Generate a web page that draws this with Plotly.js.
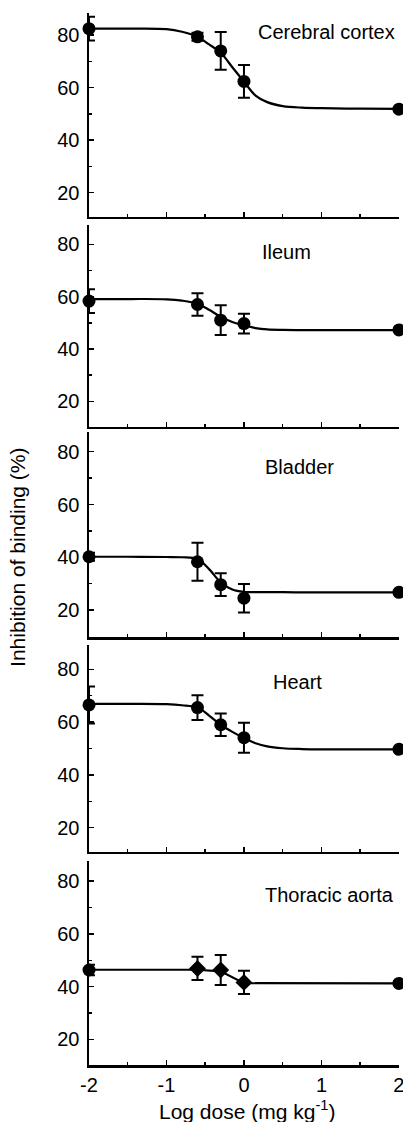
<!DOCTYPE html>
<html>
<head>
<meta charset="utf-8">
<script src="https://cdn.plot.ly/plotly-3.0.1.min.js"></script>
<style>
html,body{margin:0;padding:0;background:#fff;}
#chart{width:403px;height:1122px;}
</style>
</head>
<body>
<div id="chart"></div>
<script>
// ---- data ----
const panelNames = ["Cerebral cortex", "Ileum", "Bladder", "Heart", "Thoracic aorta"];
const doseX = [-2, -0.6, -0.3, 0, 2];

const cortexVals = [82.5, 79.4, 74.0, 62.4, 51.8];
const cortexErr  = [4.5, 1.5, 7.2, 6.2, 0];
const ileumVals  = [58.3, 57.0, 51.0, 49.7, 47.3];
const ileumErr   = [4.5, 4.3, 5.7, 3.8, 0];
const bladderVals = [40.2, 38.3, 29.6, 24.5, 26.7];
const bladderErr  = [1.5, 7.2, 4.3, 5.4, 0];
const heartVals  = [66.5, 65.5, 59.0, 54.1, 49.7];
const heartErr   = [7.0, 4.7, 4.3, 5.7, 0];
const aortaVals  = [46.3, 46.9, 46.3, 41.6, 41.2];
const aortaErr   = [2.0, 4.4, 5.7, 4.4, 0];

// fitted curves
const fitX = [-2, -1.5, -1, -0.8, -0.6, -0.45, -0.3, -0.15, 0, 0.15, 0.3, 0.5, 0.75, 1, 1.5, 2];
const cortexFit  = [82.5, 82.5, 82.3, 81.3, 79.4, 76.5, 73.3, 67.8, 62.3, 57.0, 54.5, 53.0, 52.4, 52.2, 52.0, 51.9];
const ileumFit   = [59.1, 59.1, 59.0, 58.5, 57.3, 55.0, 52.3, 50.3, 49.0, 48.0, 47.5, 47.3, 47.2, 47.2, 47.2, 47.2];
const bladderFit = [40.2, 40.2, 40.1, 40.0, 39.3, 35.5, 30.5, 27.8, 26.9, 26.8, 26.8, 26.8, 26.7, 26.7, 26.7, 26.7];
const heartFit   = [66.9, 66.9, 66.8, 66.4, 65.5, 62.5, 59.0, 56.3, 54.0, 52.0, 50.8, 50.1, 49.8, 49.7, 49.7, 49.7];
const aortaFitX  = [-2, -0.6, -0.3, 0, 2];
const aortaFit   = [46.4, 46.4, 45.8, 41.3, 41.2];

const xTickVals = [-2, -1, 0, 1, 2];
const xTickText = ["-2", "-1", "0", "1", "2"];
const yTickVals = [20, 40, 60, 80];

// ---- styling / layout ----
const FONT = "Liberation Sans, Arial, Helvetica, sans-serif";
const series = [
  {vals: cortexVals, err: cortexErr, fx: fitX, fy: cortexFit, shape: 'spline', sym: 'circle'},
  {vals: ileumVals, err: ileumErr, fx: fitX, fy: ileumFit, shape: 'spline', sym: 'circle'},
  {vals: bladderVals, err: bladderErr, fx: fitX, fy: bladderFit, shape: 'spline', sym: 'circle'},
  {vals: heartVals, err: heartErr, fx: fitX, fy: heartFit, shape: 'spline', sym: 'circle'},
  {vals: aortaVals, err: aortaErr, fx: aortaFitX, fy: aortaFit, shape: 'linear', sym: ['circle','diamond','diamond','diamond','circle']}
];
const domains = [[0.8061, 1.0], [0.6065, 0.7985], [0.4068, 0.6017], [0.2025, 0.3992], [0.0, 0.1939]];
const ranges = [[10.74, 88.46], [10.17, 87.42], [9.76, 87.48], [10.8, 89.2], [10.26, 87.67]];
const labelPos = [
  {x: 0.9935, y: 0.9822, xa: 'right'},
  {x: 0.6387, y: 0.7725, xa: 'center'},
  {x: 0.6806, y: 0.5687, xa: 'center'},
  {x: 0.671,  y: 0.3644, xa: 'center'},
  {x: 0.990,  y: 0.1616, xa: 'right'}
];

const traces = [];
const layout = {
  width: 403, height: 1122,
  margin: {l: 89, r: 4, t: 13, b: 57},
  paper_bgcolor: '#fff', plot_bgcolor: '#fff',
  showlegend: false,
  font: {family: FONT, color: '#000', size: 20},
  annotations: []
};

series.forEach((s, i) => {
  const n = i + 1;
  const xa = n === 1 ? 'x' : 'x' + n;
  const ya = n === 1 ? 'y' : 'y' + n;
  traces.push({
    x: s.fx, y: s.fy, xaxis: xa, yaxis: ya, type: 'scatter', mode: 'lines',
    line: {color: '#000', width: 2.2, shape: s.shape, smoothing: 1},
    cliponaxis: false, hoverinfo: 'skip'
  });
  traces.push({
    x: doseX, y: s.vals, xaxis: xa, yaxis: ya, type: 'scatter', mode: 'markers',
    marker: {color: '#000', size: 13, symbol: s.sym},
    error_y: {type: 'data', array: s.err, visible: true, color: '#000', thickness: 2, width: 6},
    cliponaxis: false
  });
  const xKey = n === 1 ? 'xaxis' : 'xaxis' + n;
  const yKey = n === 1 ? 'yaxis' : 'yaxis' + n;
  const bottom = n === 5;
  layout[xKey] = {
    domain: [0, 1], anchor: ya, range: [-2, 2.001], fixedrange: true,
    showgrid: false, zeroline: false,
    showline: true, linecolor: '#000', linewidth: 2.5,
    ticks: 'inside', ticklen: 5, tickwidth: 1.5, tickcolor: '#000',
    tickmode: 'array', tickvals: xTickVals, ticktext: xTickText,
    minor: {ticks: 'inside', ticklen: 3, tickwidth: 1.5, tickcolor: '#000', dtick: 0.5, tick0: -2, showgrid: false},
    showticklabels: bottom, ticklabeloverflow: 'allow',
    tickfont: {family: FONT, size: 20, color: '#000'}
  };
  layout[yKey] = {
    domain: domains[i], anchor: xa, range: ranges[i], fixedrange: true,
    showgrid: false, zeroline: false,
    showline: true, linecolor: '#000', linewidth: 2.5,
    ticks: 'inside', ticklen: 5, tickwidth: 1.5, tickcolor: '#000',
    tickmode: 'array', tickvals: yTickVals,
    minor: {ticks: 'inside', ticklen: 3, tickwidth: 1.5, tickcolor: '#000', dtick: 10, tick0: 0, showgrid: false},
    ticklabelstandoff: 3,
    tickfont: {family: FONT, size: 20, color: '#000'}
  };
  layout.annotations.push({
    text: panelNames[i], xref: 'paper', yref: 'paper',
    x: labelPos[i].x, y: labelPos[i].y, xanchor: labelPos[i].xa, yanchor: 'middle',
    showarrow: false, font: {family: FONT, size: 20, color: '#000'}
  });
});

layout.annotations.push({
  text: 'Inhibition of binding (%)', xref: 'paper', yref: 'paper',
  x: -0.229, y: 0.482, xanchor: 'center', yanchor: 'middle', textangle: -90,
  showarrow: false, font: {family: FONT, size: 21, color: '#000'}
});
layout.annotations.push({
  text: 'Log dose (mg kg<sup>-1</sup>)', xref: 'paper', yref: 'paper',
  x: 0.51, y: -0.0425, xanchor: 'center', yanchor: 'middle',
  showarrow: false, font: {family: FONT, size: 21, color: '#000'}
});

Plotly.newPlot('chart', traces, layout, {displayModeBar: false, staticPlot: true});
</script>
</body>
</html>
